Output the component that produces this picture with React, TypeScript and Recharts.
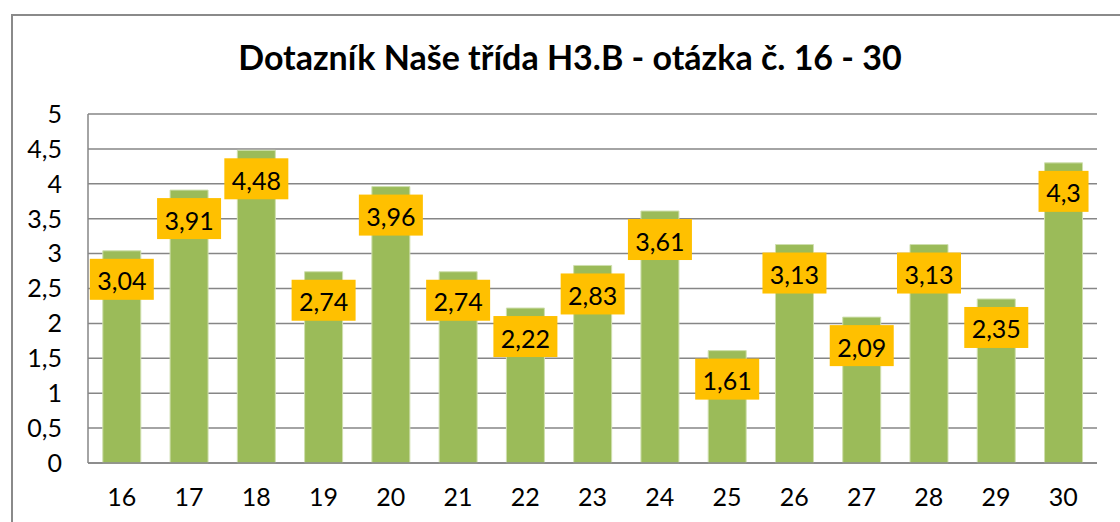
import React from 'react';
import { BarChart, Bar, XAxis, YAxis, CartesianGrid, LabelList } from 'recharts';

const categories = ['16', '17', '18', '19', '20', '21', '22', '23', '24', '25', '26', '27', '28', '29', '30'];
const values = [3.04, 3.91, 4.48, 2.74, 3.96, 2.74, 2.22, 2.83, 3.61, 1.61, 3.13, 2.09, 3.13, 2.35, 4.3];
const yTicks = [0, 0.5, 1, 1.5, 2, 2.5, 3, 3.5, 4, 4.5, 5];
const title = 'Dotazník Naše třída H3.B - otázka č. 16 - 30';

const data = categories.map((c, i) => ({ name: c, value: values[i] }));

const fmt = (v: number) => String(v).replace('.', ',');
const FONT = 'Lato, "Open Sans", sans-serif';

const BoxLabel = (props: any) => {
  const { x, y, width, value } = props;
  const txt = fmt(value);
  const digits = txt.replace(',', '').length;
  const hasComma = txt.includes(',');
  const w = digits * 14 + (hasComma ? 6 : 0) + 16;
  const h = 41;
  const cx = x + width / 2;
  const top = y + 8;
  return (
    <g>
      <rect x={cx - w / 2} y={top} width={w} height={h} fill="#FFC000" />
      <text x={cx} y={top + h / 2 + 1} textAnchor="middle" dominantBaseline="central" fontFamily={FONT} fontSize={25} fill="#000">
        {txt}
      </text>
    </g>
  );
};

export default function App() {
  return (
    <div style={{ position: 'absolute', left: 0, top: 0, width: 1120, height: 522, overflow: 'hidden', background: '#fff' }}>
      <div style={{ position: 'absolute', left: 11, top: 14, width: 1200, height: 600, border: '2px solid #8a8a8a' }} />
      <div style={{ position: 'absolute', left: 0, top: 0 }}>
        <BarChart width={1120} height={522} data={data} margin={{ top: 114, right: 23, left: 0, bottom: 0 }} barCategoryGap="22%">
          <text x={570} y={70} textAnchor="middle" fontFamily={FONT} fontWeight={700} fontSize={34} fill="#000">
            {title}
          </text>
          <CartesianGrid vertical={false} stroke="#868686" strokeWidth={1.5} />
          <XAxis
            dataKey="name"
            height={59}
            tickLine={false}
            tickSize={0}
            tickMargin={25}
            axisLine={{ stroke: '#868686', strokeWidth: 1.5 }}
            tick={{ fill: '#000', fontSize: 25, fontFamily: FONT }}
          />
          <YAxis
            width={88}
            domain={[0, 5]}
            ticks={yTicks}
            interval={0}
            tickLine={false}
            tickSize={0}
            tickMargin={26}
            tickFormatter={fmt}
            axisLine={{ stroke: '#868686', strokeWidth: 1.5 }}
            tick={{ fill: '#000', fontSize: 25, fontFamily: FONT }}
          />
          <Bar dataKey="value" fill="#9BBB59" stroke="#cfdfae" strokeWidth={1} isAnimationActive={false}>
            <LabelList dataKey="value" content={BoxLabel} />
          </Bar>
        </BarChart>
      </div>
    </div>
  );
}
